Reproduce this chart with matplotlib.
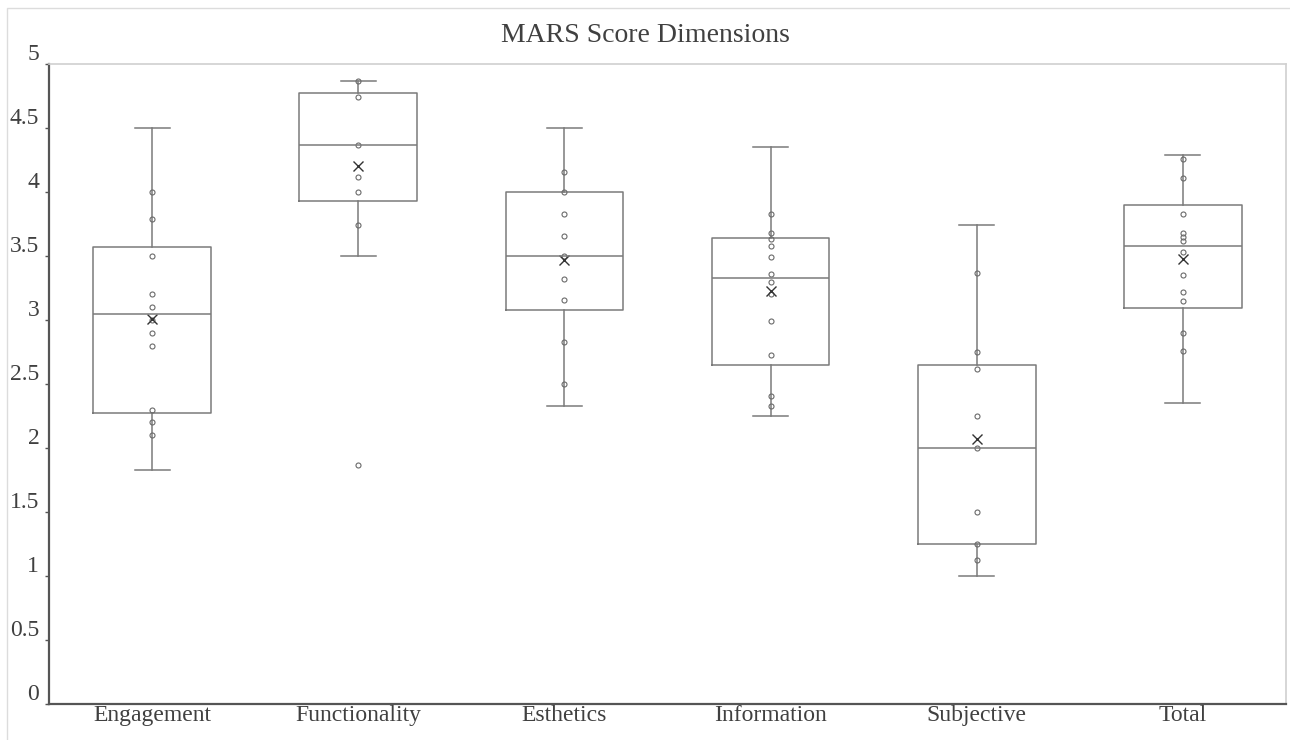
import matplotlib
matplotlib.use('Agg')
import matplotlib.pyplot as plt
import matplotlib.transforms as mtransforms
from matplotlib.patches import Rectangle

categorias = ['Engagement', 'Functionality', 'Esthetics', 'Information', 'Subjective', 'Total']

# estadisticos de cada caja
q1 = [2.27, 3.93, 3.08, 2.65, 1.25, 3.09]
medianas = [3.05, 4.37, 3.50, 3.33, 2.00, 3.58]
q3 = [3.57, 4.77, 4.00, 3.64, 2.65, 3.90]
bigote_inf = [1.83, 3.50, 2.33, 2.25, 1.00, 2.35]
bigote_sup = [4.50, 4.87, 4.50, 4.35, 3.74, 4.29]
promedios = [3.01, 4.20, 3.47, 3.23, 2.07, 3.48]

# puntos individuales
engagement = [4.0, 3.79, 3.5, 3.2, 3.1, 3.0, 2.9, 2.8, 2.3, 2.2, 2.1]
functionality = [4.87, 4.74, 4.37, 4.12, 4.0, 3.74, 1.87]
esthetics = [4.16, 4.0, 3.83, 3.66, 3.5, 3.32, 3.16, 2.83, 2.5]
information = [3.83, 3.68, 3.63, 3.58, 3.49, 3.36, 3.30, 3.20, 2.99, 2.73, 2.41, 2.33]
subjective = [3.37, 2.75, 2.62, 2.25, 2.0, 1.5, 1.25, 1.125]
total = [4.26, 4.11, 3.83, 3.68, 3.65, 3.62, 3.53, 3.35, 3.22, 3.15, 2.90, 2.76]
puntos = [engagement, functionality, esthetics, information, subjective, total]

yticks = [0, 0.5, 1, 1.5, 2, 2.5, 3, 3.5, 4, 4.5, 5]

plt.rcParams['font.family'] = ['Liberation Serif', 'DejaVu Serif']
gris = '#7a7a7a'
texto = '#404040'

fig = plt.figure(figsize=(12.9, 7.4), dpi=100)
ax = fig.add_axes([49 / 1290, 1 - 704 / 740, (1286 - 49) / 1290, (704 - 64) / 740])

stats = []
for i in range(len(categorias)):
    stats.append({'q1': q1[i], 'med': medianas[i], 'q3': q3[i],
                  'whislo': bigote_inf[i], 'whishi': bigote_sup[i],
                  'mean': promedios[i], 'fliers': [], 'label': categorias[i]})

posiciones = list(range(1, len(categorias) + 1))
estilo = dict(color=gris, linewidth=1.1)
ax.bxp(stats, positions=posiciones, widths=0.57, showmeans=False, showfliers=False,
       boxprops=estilo, whiskerprops=estilo, capprops=estilo,
       medianprops=estilo, capwidths=0.17, manage_ticks=False)

for pos, valores in zip(posiciones, puntos):
    ax.plot([pos] * len(valores), valores, linestyle='none', marker='o', markersize=3.6,
            markerfacecolor='none', markeredgecolor='#6a6a6a', markeredgewidth=0.8)

ax.plot(posiciones, promedios, linestyle='none', marker='x', markersize=6.5,
        color='#333333', markeredgewidth=1.0)

ax.set_xlim(0.5, len(categorias) + 0.5)
ax.set_ylim(0, 5)
ax.set_xticks(posiciones)
ax.set_xticklabels(categorias)
ax.set_yticks(yticks)
ax.set_yticklabels([f'{v:g}' for v in yticks])

ax.tick_params(axis='x', length=0, pad=1, labelsize=17, labelcolor=texto)
ax.tick_params(axis='y', length=3, width=1, color='#555555', pad=4, labelsize=17, labelcolor=texto)

for lado in ['top', 'right']:
    ax.spines[lado].set_color('#d0d0d0')
    ax.spines[lado].set_linewidth(1.2)
for lado in ['left', 'bottom']:
    ax.spines[lado].set_color('#555555')
    ax.spines[lado].set_linewidth(1.6)

# etiquetas del eje y un poco por encima de la marca, como en Excel
desplazamiento = mtransforms.ScaledTranslation(0, 12 / 100, fig.dpi_scale_trans)
for etiqueta in ax.get_yticklabels():
    etiqueta.set_transform(etiqueta.get_transform() + desplazamiento)

fig.text(0.5, 1 - 35 / 740, 'MARS Score Dimensions', ha='center', va='center',
         fontsize=20, color=texto)

# borde exterior del area del grafico
fig.patches.append(Rectangle((7 / 1290, -0.1), 1.2, 1 - 8 / 740 + 0.1,
                             transform=fig.transFigure, fill=False,
                             edgecolor='#dcdcdc', linewidth=1.0))

fig.savefig('out.png', dpi=100)
